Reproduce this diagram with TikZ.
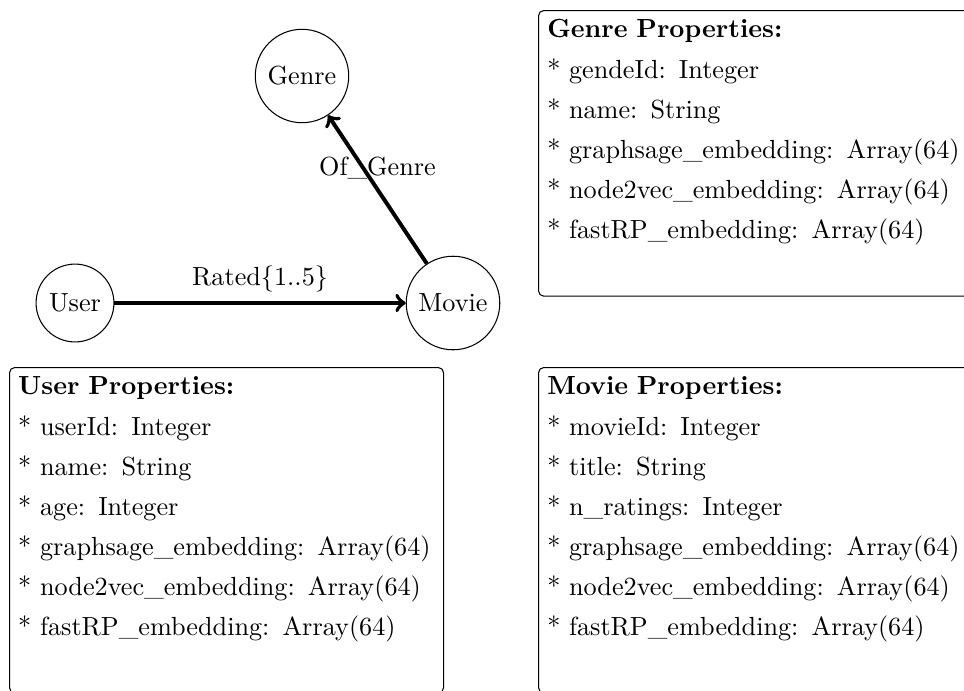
\documentclass[tikz,border=0pt]{standalone}
\usetikzlibrary{arrows}
\begin{document}
\begin{tikzpicture}[x=0.3817pt, y=-0.3817pt,
  entity/.style={circle, draw, line width=0.4pt},
  rel/.style={->, line width=1.5pt},
  propbox/.style={draw, rounded corners=2pt, line width=0.4pt, anchor=north west,
    text width=159pt, align=left, inner sep=3.33pt}]
\useasboundingbox (0,0) rectangle (964,690);

\node[entity] (genre) at (302,76) {Genre};
\node[entity] (user) at (75,303) {User};
\node[entity] (movie) at (453,303) {Movie};

\draw[rel] (user) -- node[above] {Rated\{1..5\}} (movie);
\draw[rel] (movie) -- node[above] {Of\_Genre} (genre);

\node[propbox] (genreprops) at (538,10) {\textbf{Genre Properties:}\\[3.6pt]
* gendeId: Integer\\[3.3pt]
* name: String\\[3.3pt]
* graphsage\_embedding: Array(64)\\[3.3pt]
* node2vec\_embedding: Array(64)\\[3.3pt]
* fastRP\_embedding: Array(64)\\[3.0pt]
\strut};

\node[propbox] (userprops) at (9,367) {\textbf{User Properties:}\\[3.6pt]
* userId: Integer\\[3.3pt]
* name: String\\[3.3pt]
* age: Integer\\[3.3pt]
* graphsage\_embedding: Array(64)\\[3.3pt]
* node2vec\_embedding: Array(64)\\[3.3pt]
* fastRP\_embedding: Array(64)\\[3.0pt]
\strut};

\node[propbox] (movieprops) at (538,367) {\textbf{Movie Properties:}\\[3.6pt]
* movieId: Integer\\[3.3pt]
* title: String\\[3.3pt]
* n\_ratings: Integer\\[3.3pt]
* graphsage\_embedding: Array(64)\\[3.3pt]
* node2vec\_embedding: Array(64)\\[3.3pt]
* fastRP\_embedding: Array(64)\\[3.0pt]
\strut};
\end{tikzpicture}
\end{document}
